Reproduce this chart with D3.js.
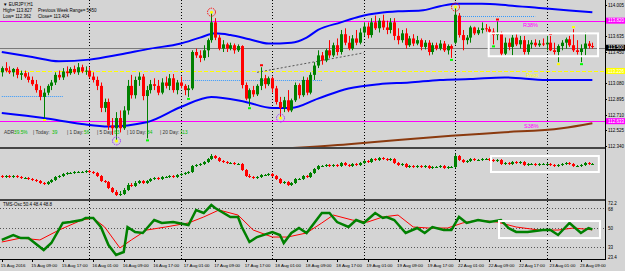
<!DOCTYPE html>
<html>
<head>
<meta charset="utf-8">
<script src="https://cdn.jsdelivr.net/npm/d3@7"></script>
<style>
  body { margin: 0; background: #d4d4d4; }
  svg text { font-family: "Liberation Sans", Arial, sans-serif; }
</style>
</head>
<body>
<svg id="chart" width="625" height="271"></svg>
<script>
// EURJPY H1 bars, 15 Aug 01:00 .. 23 Aug 12:00 (156 bars)
const mainOpen = [113.21,113.26,113.23,113.21,113.25,113.18,113.20,113.16,113.12,113.07,
  113.00,112.92,112.97,113.05,113.09,113.18,113.15,113.22,113.20,113.25,
  113.21,113.27,113.22,113.23,113.16,113.12,113.05,112.79,112.86,112.58,
  112.55,112.67,112.55,112.76,113.05,112.94,113.12,113.16,112.93,113.00,
  113.07,113.05,112.97,113.09,113.05,113.14,113.00,113.09,113.05,113.00,
  113.02,113.45,113.41,113.38,113.47,113.59,113.80,113.62,113.49,113.54,
  113.49,113.53,113.47,113.52,113.06,112.90,113.00,112.95,113.05,113.14,
  113.07,113.14,113.02,112.86,112.79,112.88,112.76,112.88,113.06,112.94,
  113.12,112.97,113.18,113.29,113.41,113.35,113.47,113.41,113.53,113.45,
  113.66,113.56,113.49,113.61,113.56,113.68,113.75,113.65,113.80,113.73,
  113.82,113.74,113.71,113.80,113.64,113.59,113.67,113.53,113.61,113.55,
  113.59,113.51,113.56,113.45,113.53,113.49,113.55,113.47,113.52,113.56,
  113.88,113.65,113.59,113.62,113.74,113.67,113.71,113.73,113.72,113.69,
  113.65,113.67,113.43,113.56,113.51,113.62,113.54,113.59,113.45,113.54,
  113.56,113.53,113.55,113.54,113.56,113.47,113.45,113.52,113.56,113.60,
  113.53,113.47,113.45,113.49,113.55,113.52];
const mainHigh = [113.28,113.33,113.28,113.26,113.27,113.23,113.23,113.21,113.16,113.12,
  113.05,113.02,113.07,113.12,113.21,113.23,113.26,113.28,113.27,113.29,
  113.32,113.30,113.28,113.27,113.21,113.16,113.09,112.90,112.90,112.67,
  112.74,112.76,112.81,113.12,113.18,113.16,113.21,113.19,113.05,113.12,
  113.14,113.12,113.14,113.16,113.19,113.19,113.12,113.16,113.07,113.06,
  113.47,113.49,113.47,113.53,113.61,113.92,113.85,113.65,113.59,113.56,
  113.56,113.55,113.54,113.53,113.09,113.02,113.05,113.07,113.27,113.18,
  113.16,113.16,113.05,112.92,112.92,113.00,112.90,113.09,113.08,113.16,
  113.15,113.21,113.33,113.47,113.45,113.49,113.59,113.56,113.61,113.71,
  113.73,113.64,113.65,113.71,113.73,113.80,113.80,113.85,113.88,113.85,
  113.89,113.82,113.85,113.85,113.73,113.71,113.73,113.64,113.66,113.64,
  113.61,113.59,113.59,113.56,113.56,113.59,113.58,113.54,113.54,113.98,
  113.91,113.71,113.65,113.76,113.75,113.74,113.80,113.78,113.75,113.73,
  113.81,113.69,113.62,113.61,113.65,113.66,113.64,113.64,113.59,113.59,
  113.60,113.59,113.61,113.64,113.64,113.56,113.54,113.59,113.62,113.64,
  113.72,113.59,113.54,113.68,113.58,113.56];
const mainLow = [113.16,113.21,113.19,113.16,113.14,113.12,113.14,113.09,113.05,112.97,
  112.88,112.67,112.94,113.00,113.06,113.12,113.12,113.16,113.18,113.19,
  113.18,113.20,113.18,113.14,113.09,113.00,112.74,112.74,112.53,112.47,
  112.40,112.50,112.53,112.71,112.90,112.90,113.05,112.88,112.43,112.96,
  113.00,112.94,112.95,113.02,113.00,112.97,112.95,113.02,112.94,112.92,
  113.00,113.38,113.33,113.35,113.39,113.56,113.59,113.47,113.45,113.45,
  113.47,113.43,113.45,113.02,112.88,112.81,112.92,112.93,113.00,113.02,
  113.05,112.97,112.83,112.67,112.74,112.74,112.74,112.86,112.90,112.92,
  112.94,112.95,113.12,113.26,113.30,113.33,113.38,113.39,113.41,113.42,
  113.53,113.47,113.47,113.53,113.54,113.64,113.61,113.62,113.71,113.68,
  113.71,113.66,113.67,113.59,113.54,113.56,113.49,113.51,113.52,113.53,
  113.47,113.48,113.41,113.42,113.47,113.47,113.45,113.42,113.38,113.54,
  113.62,113.47,113.54,113.56,113.65,113.65,113.67,113.69,113.66,113.54,
  113.59,113.40,113.41,113.47,113.41,113.52,113.49,113.42,113.42,113.49,
  113.51,113.51,113.52,113.47,113.46,113.42,113.33,113.47,113.49,113.51,
  113.45,113.42,113.33,113.41,113.49,113.49];
const mainClose = [113.26,113.23,113.21,113.25,113.18,113.20,113.16,113.12,113.07,113.00,
  112.92,112.97,113.05,113.09,113.18,113.15,113.22,113.20,113.25,113.21,
  113.27,113.22,113.23,113.16,113.12,113.05,112.79,112.86,112.58,112.55,
  112.67,112.55,112.76,113.05,112.94,113.12,113.16,112.93,113.00,113.07,
  113.05,112.97,113.09,113.05,113.14,113.00,113.09,113.05,113.00,113.02,
  113.45,113.41,113.38,113.47,113.59,113.80,113.62,113.49,113.54,113.49,
  113.53,113.47,113.52,113.06,112.90,113.00,112.95,113.05,113.14,113.07,
  113.14,113.02,112.86,112.79,112.88,112.76,112.88,113.06,112.94,113.12,
  112.97,113.18,113.29,113.41,113.35,113.47,113.41,113.53,113.45,113.66,
  113.56,113.49,113.61,113.56,113.68,113.75,113.65,113.80,113.73,113.82,
  113.74,113.71,113.80,113.64,113.59,113.67,113.53,113.61,113.55,113.59,
  113.51,113.56,113.45,113.53,113.49,113.55,113.47,113.52,113.49,113.89,
  113.65,113.59,113.62,113.74,113.67,113.71,113.73,113.72,113.69,113.65,
  113.67,113.43,113.56,113.51,113.62,113.54,113.59,113.45,113.54,113.56,
  113.53,113.55,113.54,113.56,113.47,113.45,113.52,113.56,113.60,113.53,
  113.47,113.45,113.49,113.55,113.52,113.51];

// lower window candles (indicator units)
const sub1Open = [44,42,44,42,44,42,40,40,38,36, 34,30,28,32,36,42,44,48,50,50,
  52,52,52,54,52,50,44,34,32,20, 12,6,8,16,26,24,30,34,30,34, 38,40,38,42,42,44,42,46,48,50,
  52,64,66,68,72,78,84,80,74,72, 70,70,68,68,56,44,42,40,42,46, 46,48,44,38,30,32,26,30,38,38,
  44,42,50,58,64,64,66,64,66,64, 70,66,64,68,66,70,74,72,78,76, 80,78,76,78,70,66,68,62,64,62,
  64,62,64,60,62,62,64,60,62,62, 84,76,72,74,78,76,76,78,78,76, 74,76,68,70,68,72,70,72,66,68,
  68,66,68,68,68,66,64,66,68,70, 68,64,64,66,70,68];
const sub1High = [46,46,46,46,46,44,42,42,40,38, 36,32,34,38,44,46,50,52,52,54,
  54,54,56,56,54,52,46,36,34,22, 16,14,20,30,30,34,36,36,36,40, 42,42,44,44,46,46,48,50,52,54,
  66,68,70,74,80,88,86,82,76,74, 72,72,70,70,58,48,44,44,48,48, 50,50,46,40,34,34,32,40,40,46,
  46,52,60,66,66,68,68,68,68,72, 72,68,70,70,72,76,76,80,80,82, 82,80,80,80,72,70,70,66,66,66,
  66,66,66,64,64,66,66,64,64,88, 86,78,76,80,80,78,80,80,80,78, 78,78,72,72,74,74,74,74,70,70,
  70,70,70,70,70,68,68,70,72,72, 70,66,68,72,72,70];
const sub1Low = [40,40,40,40,40,38,38,36,34,32, 28,26,26,30,34,40,42,46,48,48,
  50,50,50,50,48,42,32,30,18,10, 4,4,6,14,22,22,28,28,28,32, 36,36,36,40,40,40,40,44,46,48,
  50,62,64,66,70,76,78,72,70,68, 68,66,66,54,42,40,38,38,40,44, 44,42,36,28,28,24,24,28,36,36,
  40,40,48,56,62,62,62,62,62,62, 64,62,62,64,64,68,70,70,74,74, 76,74,74,68,64,64,60,60,60,60,
  60,60,58,58,60,60,58,58,60,60, 74,70,70,72,74,74,74,76,74,72, 72,66,66,66,66,68,68,64,64,66,
  64,64,66,66,64,62,62,64,66,66, 62,62,62,64,66,66];
const sub1Close = [42,44,42,44,42,40,40,38,36,34, 30,28,32,36,42,44,48,50,50,52,
  52,52,54,52,50,44,34,32,20,12, 6,8,16,26,24,30,34,30,34,38, 40,38,42,42,44,42,46,48,50,52,
  64,66,68,72,78,84,80,74,72,70, 70,68,68,56,44,42,40,42,46,46, 48,44,38,30,32,26,30,38,38,44,
  42,50,58,64,64,66,64,66,64,70, 66,64,68,66,70,74,72,78,76,80, 78,76,78,70,66,68,62,64,62,64,
  62,64,60,62,62,64,60,62,62,84, 76,72,74,78,76,76,78,78,76,74, 76,68,70,68,72,70,72,66,68,68,
  66,68,68,68,66,64,66,68,70,68, 64,64,66,70,68,68];

// TMS oscillator: [bar, value]
const tmsGreen = [[0,39.4],[3,43.8],[5,41.1],[7,41.1],[11,30.5],[13,36.7],[16,54.5],[18,55.3],
  [21,57.1],[22,58.9],[24,58.9],[26,50.9],[28,34.9],[30,26.1],[32,28.7],[33,50.9],[35,46.5],
  [37,45.6],[40,57.1],[42,54.5],[45,55.3],[49,52.7],[51,66.0],[53,63.3],[55,70.4],[56,67.8],
  [60,59.8],[62,59.8],[63,50.9],[65,37.6],[67,42.0],[71,46.5],[73,43.8],[74,36.7],[76,45.6],
  [78,50.0],[80,45.6],[84,63.3],[86,63.3],[88,55.3],[91,50.9],[93,57.1],[95,54.5],[98,63.3],
  [100,58.9],[101,59.8],[103,57.1],[106,45.6],[109,50.0],[111,45.6],[113,50.9],[116,48.2],
  [118,48.2],[120,59.8],[122,54.5],[125,57.1],[128,55.3],[131,57.1],[133,50.0],[135,46.5],
  [138,46.5],[142,48.2],[144,48.2],[146,43.8],[149,54.5],[152,45.6],[154,50.0],[155,48.8]];
const tmsRed = [[0,37.6],[5,41.1],[10,39.4],[15,48.2],[21,57.1],[24,58.9],[27,50.9],[31,32.3],
  [34,39.4],[38,48.2],[43,50.9],[49,54.5],[53,59.8],[57,66.0],[62,61.5],[66,48.2],[71,42.0],
  [75,42.0],[80,45.6],[84,54.5],[87,61.5],[92,57.1],[96,55.3],[100,59.8],[104,61.5],[108,50.9],
  [112,50.0],[117,50.0],[121,54.5],[125,57.1],[130,55.3],[135,50.9],[141,48.2],[146,48.2],
  [150,50.0],[155,48.4]];

const upperBand = [[0,113.45],[8,113.39],[15,113.34],[23,113.36],[31,113.42],[39,113.49],[47,113.55],
  [52,113.62],[56,113.67],[60,113.65],[65,113.60],[70,113.55],[76,113.56],[80,113.62],[83,113.71],
  [89,113.80],[94,113.87],[99,113.91],[104,113.93],[110,113.94],[115,113.99],[119,114.02],
  [126,114.02],[133,114.00],[141,113.97],[149,113.94],[155,113.92]];
const lowerBand = [[0,112.73],[11,112.67],[21,112.60],[28,112.57],[38,112.62],[47,112.80],[55,112.92],
  [64,112.86],[71,112.79],[76,112.79],[83,112.90],[91,113.02],[99,113.07],[107,113.09],
  [115,113.12],[123,113.13],[132,113.15],[143,113.12],[155,113.12]];
const slowMA = [[74,112.31],[91,112.36],[104,112.41],[118,112.46],[131,112.50],[147,112.55],[155,112.61]];
const trendDots = [[67,113.21],[95,113.44]];
const openLines = [[0,16,112.93],[47,84,113.12],[120,140,113.87]];

const priceTicks = [114.005, 113.820, 113.635, 113.450, 113.080, 112.895, 112.710, 112.525, 112.340];
const levels = [
  { price: 113.820, color: "#ff00ff", label: "R38%", dash: null, lx: 523 },
  { price: 113.226, color: "#ffff00", label: "Pivot", dash: "4,2", lx: 526 },
  { price: 112.633, color: "#ff00ff", label: "S38%", dash: null, lx: 524 }
];
const bidPrice = 113.500;
const oscLevels = [68, 50, 33];
const dayStarts = [23, 47, 71, 95, 119, 143];
const timeLabels = ["15 Aug 2016","15 Aug 09:00","15 Aug 17:00","16 Aug 01:00","16 Aug 09:00",
  "16 Aug 17:00","17 Aug 01:00","17 Aug 09:00","17 Aug 17:00","18 Aug 01:00","18 Aug 09:00",
  "18 Aug 17:00","19 Aug 01:00","19 Aug 09:00","19 Aug 17:00","22 Aug 01:00","22 Aug 09:00",
  "22 Aug 17:00","23 Aug 01:00","23 Aug 09:00"];
const weekMarks = [{ i: 55, kind: "high" }, { i: 119, kind: "high" }, { i: 30, kind: "low" }, { i: 73, kind: "low" }];
const fractals = [{ i: 11, kind: "low", color: "#ffff00" }, { i: 38, kind: "low", color: "#00ff00" },
  { i: 49, kind: "low", color: "#00ff00" }, { i: 65, kind: "low", color: "#00ff00" },
  { i: 68, kind: "high", color: "#ff0000" }, { i: 118, kind: "low", color: "#00ff00" },
  { i: 129, kind: "low", color: "#00ff00" }, { i: 130, kind: "high", color: "#ff0000" },
  { i: 144, kind: "high", color: "#ff0000" }, { i: 146, kind: "low", color: "#ffff00" },
  { i: 150, kind: "high", color: "#ffff00" }, { i: 152, kind: "low", color: "#00ff00" }];

const W = 625, plotR = 605;
const svg = d3.select("#chart");
const x = d3.scaleLinear().domain([0, 155]).range([1.8, 1.8 + 155 * 3.81]);
const y = d3.scaleLinear().domain([112.34, 114.005]).range([146, 5]);
const y1 = d3.scaleLinear().domain([0, 96]).range([198, 150]);
const y2 = d3.scaleLinear().domain([23.4, 72.2]).range([258, 203]);
const px = v => Math.round(v) + 0.5;

svg.append("rect").attr("width", W).attr("height", 271).attr("fill", "#d4d4d4");
svg.append("clipPath").attr("id", "cm").append("rect").attr("width", plotR).attr("height", 147);

// day separators
svg.append("g").selectAll("line").data(dayStarts).join("line")
  .attr("x1", d => px(x(d))).attr("x2", d => px(x(d)))
  .attr("y1", 0).attr("y2", 259)
  .attr("stroke", "#000").attr("stroke-dasharray", "1,2");

// ---- main window ----
const main = svg.append("g").attr("clip-path", "url(#cm)");
main.selectAll("line.lvl").data(levels).join("line").attr("class", "lvl")
  .attr("x1", 0).attr("x2", plotR)
  .attr("y1", d => px(y(d.price))).attr("y2", d => px(y(d.price)))
  .attr("stroke", d => d.color).attr("stroke-dasharray", d => d.dash);
main.append("line").attr("x1", 0).attr("x2", plotR)
  .attr("y1", px(y(bidPrice))).attr("y2", px(y(bidPrice)))
  .attr("stroke", "#7a7a7a");
main.selectAll("line.open").data(openLines).join("line").attr("class", "open")
  .attr("x1", d => x(d[0])).attr("x2", d => x(d[1]))
  .attr("y1", d => px(y(d[2]))).attr("y2", d => px(y(d[2])))
  .attr("stroke", "#3399ff").attr("stroke-dasharray", "1,1");
main.append("line").attr("x1", x(trendDots[0][0])).attr("y1", y(trendDots[0][1]))
  .attr("x2", x(trendDots[1][0])).attr("y2", y(trendDots[1][1]))
  .attr("stroke", "#555").attr("stroke-dasharray", "2,2");

const band = d3.line().x(d => x(d[0])).y(d => y(d[1])).curve(d3.curveMonotoneX);
main.append("path").attr("d", band(upperBand)).attr("fill", "none").attr("stroke", "#0000ff").attr("stroke-width", 2);
main.append("path").attr("d", band(lowerBand)).attr("fill", "none").attr("stroke", "#0000ff").attr("stroke-width", 2);
main.append("path").attr("d", band(slowMA)).attr("fill", "none").attr("stroke", "#8b3a0f").attr("stroke-width", 2);

function drawCandles(g, data, ys) {
  const col = d => d.c >= d.o ? "#008000" : "#ff0000";
  g.selectAll("line.w").data(data).join("line").attr("class", "w")
    .attr("x1", d => px(x(d.i))).attr("x2", d => px(x(d.i)))
    .attr("y1", d => ys(d.h)).attr("y2", d => ys(d.l)).attr("stroke", col);
  g.selectAll("rect.b").data(data).join("rect").attr("class", "b")
    .attr("x", d => Math.round(x(d.i)) - 1).attr("width", 3)
    .attr("y", d => ys(Math.max(d.o, d.c)))
    .attr("height", d => Math.max(1, Math.abs(ys(d.o) - ys(d.c))))
    .attr("fill", col);
}
const bars = mainClose.map((c, i) => ({ i, o: mainOpen[i], h: mainHigh[i], l: mainLow[i], c }));
drawCandles(main, bars, y);

const tip = d => d.kind === "high" ? y(mainHigh[d.i]) : y(mainLow[d.i]);
main.selectAll("rect.fr").data(fractals).join("rect").attr("class", "fr")
  .attr("x", d => Math.round(x(d.i)) - 1).attr("y", d => tip(d) + (d.kind === "high" ? -3 : 1))
  .attr("width", 3).attr("height", 2).attr("fill", d => d.color);

main.selectAll("circle.wk").data(weekMarks).join("circle").attr("class", "wk")
  .attr("cx", d => px(x(d.i))).attr("cy", tip)
  .attr("r", 4).attr("fill", "none").attr("stroke", d => d.kind === "high" ? "#ff0000" : "#9933ff")
  .attr("stroke-dasharray", "1.5,1");
main.selectAll("circle.wkc").data(weekMarks).join("circle").attr("class", "wkc")
  .attr("cx", d => px(x(d.i))).attr("cy", tip).attr("r", 1.5).attr("fill", "#ffff00");

main.append("rect").attr("x", x(127.8)).attr("y", y(113.67)).attr("width", x(156.5) - x(127.8))
  .attr("height", y(113.40) - y(113.67)).attr("fill", "none").attr("stroke", "#fff").attr("stroke-width", 2);

main.selectAll("text.lvl").data(levels).join("text").attr("class", "lvl")
  .attr("x", d => d.lx).attr("y", d => y(d.price) + 6.5).attr("font-size", 5.5)
  .attr("fill", d => d.color).text(d => d.label);

const hdr = svg.append("g").attr("font-size", 4.5).attr("fill", "#000");
hdr.append("text").attr("x", 3).attr("y", 6).text("▼ EURJPY,H1");
hdr.append("text").attr("x", 3).attr("y", 12).text("High= 113.827");
hdr.append("text").attr("x", 38).attr("y", 12).text("Previous Week Range= 5450");
hdr.append("text").attr("x", 3).attr("y", 18).text("Low= 112.362");
hdr.append("text").attr("x", 38).attr("y", 18).text("Close= 113.404");

const adr = [["ADR:", "#333", 4], ["39.5%", "#00c000", 14], ["| Today:", "#333", 33], ["39", "#00c000", 52],
  ["| 1 Day:", "#333", 67], ["56", "#00c000", 84], ["| 5 Day:", "#333", 97], ["63", "#00c000", 114],
  ["| 10 Day:", "#333", 127], ["84", "#00c000", 147], ["| 20 Day:", "#333", 160], ["113", "#00c000", 180]];
svg.append("g").selectAll("text").data(adr).join("text")
  .attr("x", d => d[2]).attr("y", 133.5).attr("font-size", 4.8).attr("fill", d => d[1]).text(d => d[0]);

// ---- window 1 ----
const sub1 = svg.append("g");
const sbars = sub1Close.map((c, i) => ({ i, o: sub1Open[i], h: sub1High[i], l: sub1Low[i], c }));
drawCandles(sub1, sbars, y1);
sub1.append("rect").attr("x", x(128.4)).attr("y", y1(84)).attr("width", x(156.7) - x(128.4))
  .attr("height", y1(52) - y1(84)).attr("fill", "none").attr("stroke", "#fff").attr("stroke-width", 2);

// ---- window 2 ----
const sub2 = svg.append("g");
sub2.selectAll("line").data(oscLevels).join("line")
  .attr("x1", 0).attr("x2", plotR).attr("y1", d => px(y2(d))).attr("y2", d => px(y2(d)))
  .attr("stroke", "#555").attr("stroke-dasharray", "1,2");
const oline = d3.line().x(d => x(d[0])).y(d => y2(d[1]));
sub2.append("path").attr("d", oline(tmsRed)).attr("fill", "none").attr("stroke", "#ff0000").attr("stroke-width", 1);
sub2.append("path").attr("d", oline(tmsGreen)).attr("fill", "none").attr("stroke", "#008000").attr("stroke-width", 2.5);
sub2.append("rect").attr("x", x(130.5)).attr("y", y2(56.2)).attr("width", x(157) - x(130.5))
  .attr("height", y2(41.1) - y2(56.2)).attr("fill", "none").attr("stroke", "#fff").attr("stroke-width", 2);
sub2.append("text").attr("x", 3).attr("y", 206).attr("font-size", 4.5).text("TMS-Osc 50.4 48.4 48.8");

// window borders
svg.append("line").attr("x1", 0).attr("x2", plotR).attr("y1", 148).attr("y2", 148).attr("stroke", "#444").attr("stroke-width", 2);
svg.append("line").attr("x1", 0).attr("x2", plotR).attr("y1", 200).attr("y2", 200).attr("stroke", "#444").attr("stroke-width", 2);
svg.append("line").attr("x1", 0).attr("x2", plotR).attr("y1", 259.5).attr("y2", 259.5).attr("stroke", "#000");
svg.append("line").attr("x1", plotR + 0.5).attr("x2", plotR + 0.5).attr("y1", 0).attr("y2", 260).attr("stroke", "#000");

// price scale
const pa = svg.append("g").attr("font-size", 4.5);
pa.selectAll("text").data(priceTicks).join("text").attr("x", 608).attr("y", d => y(d) + 2).text(d => d.toFixed(3));
pa.selectAll("line").data(priceTicks).join("line").attr("x1", plotR).attr("x2", plotR + 2)
  .attr("y1", d => px(y(d))).attr("y2", d => px(y(d))).attr("stroke", "#000");
const tags = [[113.820, "#ff00ff"], [bidPrice, "#000"], [113.226, "#ffff00"], [112.633, "#ff00ff"]];
tags.forEach(([p, bg]) => {
  pa.append("rect").attr("x", 606).attr("y", y(p) - 3).attr("width", 19).attr("height", 6).attr("fill", bg);
  pa.append("text").attr("x", 608).attr("y", y(p) + 1.6).attr("fill", "#fff").text(p.toFixed(3));
});
pa.append("text").attr("x", 608).attr("y", 204.5).text("72.2");
pa.selectAll("text.ol").data(oscLevels).join("text").attr("class", "ol")
  .attr("x", 608).attr("y", d => d === 68 ? y2(d) + 3.5 : y2(d) + 1.6).text(d => d);
pa.append("text").attr("x", 608).attr("y", 259).text("23.4");

// time scale
const ta = svg.append("g").attr("font-size", 4.4);
ta.selectAll("text").data(timeLabels).join("text").attr("x", (d, k) => x(k * 8) - 1).attr("y", 267).text(d => d);
ta.selectAll("line").data(timeLabels).join("line").attr("x1", (d, k) => px(x(k * 8)))
  .attr("x2", (d, k) => px(x(k * 8))).attr("y1", 260).attr("y2", 262).attr("stroke", "#000");
</script>
</body>
</html>
